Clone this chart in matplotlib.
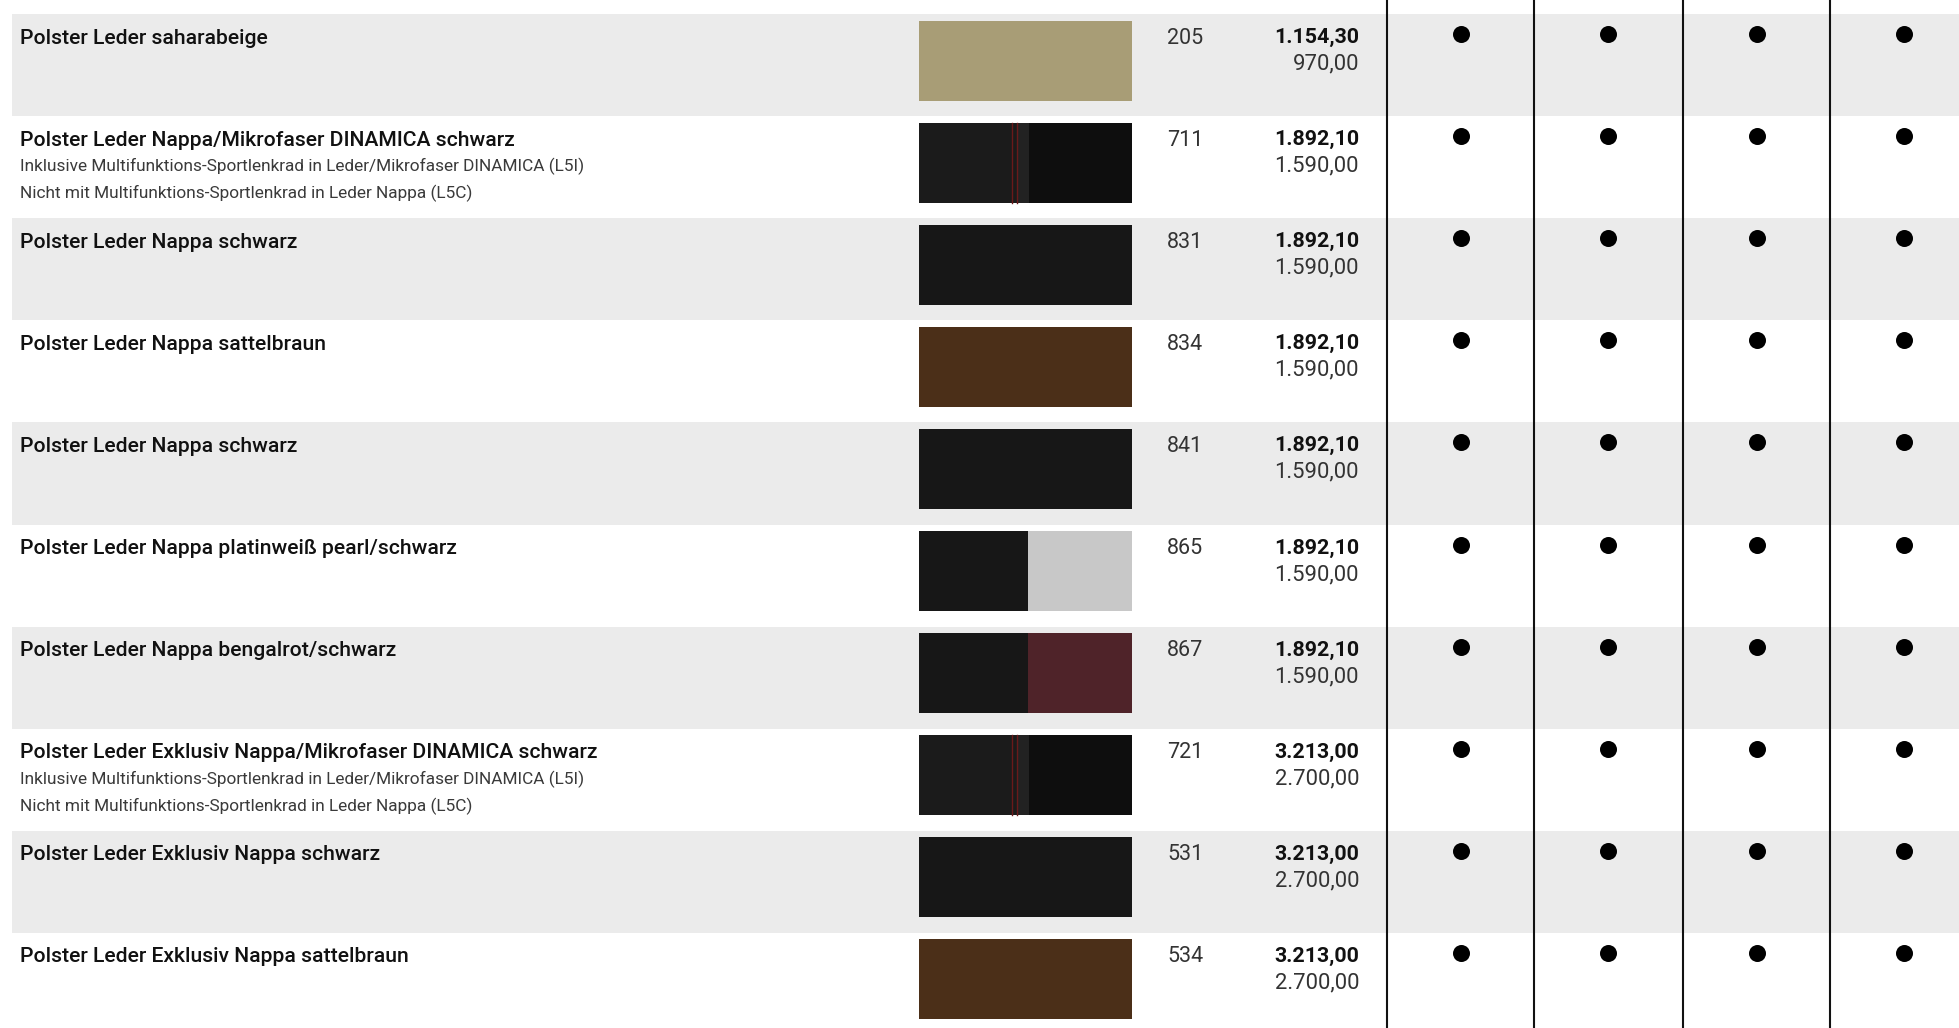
import matplotlib.pyplot as plt
from matplotlib.patches import Rectangle

# table content
titles = [
    "Polster Leder saharabeige",
    "Polster Leder Nappa/Mikrofaser DINAMICA schwarz",
    "Polster Leder Nappa schwarz",
    "Polster Leder Nappa sattelbraun",
    "Polster Leder Nappa schwarz",
    "Polster Leder Nappa platinweiß pearl/schwarz",
    "Polster Leder Nappa bengalrot/schwarz",
    "Polster Leder Exklusiv Nappa/Mikrofaser DINAMICA schwarz",
    "Polster Leder Exklusiv Nappa schwarz",
    "Polster Leder Exklusiv Nappa sattelbraun",
]
notes = [
    [],
    ["Inklusive Multifunktions-Sportlenkrad in Leder/Mikrofaser DINAMICA (L5I)",
     "Nicht mit Multifunktions-Sportlenkrad in Leder Nappa (L5C)"],
    [], [], [], [], [],
    ["Inklusive Multifunktions-Sportlenkrad in Leder/Mikrofaser DINAMICA (L5I)",
     "Nicht mit Multifunktions-Sportlenkrad in Leder Nappa (L5C)"],
    [], [],
]
codes = ["205", "711", "831", "834", "841", "865", "867", "721", "531", "534"]
price_gross = ["1.154,30", "1.892,10", "1.892,10", "1.892,10", "1.892,10",
               "1.892,10", "1.892,10", "3.213,00", "3.213,00", "3.213,00"]
price_net = ["970,00", "1.590,00", "1.590,00", "1.590,00", "1.590,00",
             "1.590,00", "1.590,00", "2.700,00", "2.700,00", "2.700,00"]
# swatch: kind + main colour + second colour
swatch_kind = ["plain", "stitched", "plain", "plain", "plain",
               "split", "split", "stitched", "plain", "plain"]
swatch_main = ["#a89d76", "#1b1b1b", "#171717", "#4b2f18", "#171717",
               "#171717", "#171717", "#1b1b1b", "#171717", "#4b2f18"]
swatch_second = [None, "#0e0e0e", None, None, None,
                 "#c8c8c8", "#4f2329", "#0e0e0e", None, None]
available = [
    [1, 1, 1, 1], [1, 1, 1, 1], [1, 1, 1, 1], [1, 1, 1, 1], [1, 1, 1, 1],
    [1, 1, 1, 1], [1, 1, 1, 1], [1, 1, 1, 1], [1, 1, 1, 1], [1, 1, 1, 1],
]

W, H = 1959, 1028
fig = plt.figure(figsize=(W / 100, H / 100), dpi=100)
ax = fig.add_axes([0, 0, 1, 1])
ax.set_xlim(0, W)
ax.set_ylim(H, 0)
ax.axis("off")

top = 14
row_h = 102.1
sw_x, sw_w, sw_h = 919, 213, 80
col_lines = [1387, 1534, 1683, 1830]
font = "Roboto"

for i, title in enumerate(titles):
    y0 = top + i * row_h
    if i % 2 == 0:
        ax.add_patch(Rectangle((12, y0), W - 12, row_h, color="#ebebeb", lw=0, zorder=0))

    ax.text(20, y0 + 24, title, fontsize=15.2, fontweight="medium", family=font,
            va="center", ha="left", color="#111111")
    for k, line in enumerate(notes[i]):
        ax.text(20, y0 + 50.5 + k * 27, line, fontsize=12.4, family=font,
                va="center", ha="left", color="#3a3a3a")

    # swatch
    sy = y0 + 6.5
    kind = swatch_kind[i]
    if kind == "plain":
        ax.add_patch(Rectangle((sw_x, sy), sw_w, sw_h, color=swatch_main[i], lw=0, zorder=2))
    elif kind == "split":
        ax.add_patch(Rectangle((sw_x, sy), sw_w * 0.51, sw_h, color=swatch_main[i], lw=0, zorder=2))
        ax.add_patch(Rectangle((sw_x + sw_w * 0.51, sy), sw_w * 0.49, sw_h,
                               color=swatch_second[i], lw=0, zorder=2))
    else:
        ax.add_patch(Rectangle((sw_x, sy), sw_w * 0.515, sw_h, color=swatch_main[i], lw=0, zorder=2))
        ax.add_patch(Rectangle((sw_x + sw_w * 0.46, sy), sw_w * 0.055, sw_h,
                               color="#222222", lw=0, zorder=2))
        ax.add_patch(Rectangle((sw_x + sw_w * 0.515, sy), sw_w * 0.485, sw_h,
                               color=swatch_second[i], lw=0, zorder=2))
        for f in (0.435, 0.46):
            ax.plot([sw_x + sw_w * f] * 2, [sy, sy + sw_h], color="#6a1a1a", lw=1.0, zorder=3)

    ax.text(1167, y0 + 24, codes[i], fontsize=15.5, family=font,
            va="center", ha="left", color="#333333")
    ax.text(1359, y0 + 23.5, price_gross[i], fontsize=15.4, family=font, fontweight="bold",
            va="center", ha="right", color="#111111")
    ax.text(1359, y0 + 50, price_net[i], fontsize=15.8, family=font,
            va="center", ha="right", color="#333333")

    for j, flag in enumerate(available[i]):
        if flag:
            cx = col_lines[j] + 74
            ax.scatter([cx], [y0 + 20], s=150, color="black", zorder=4, linewidths=0)

for x in col_lines:
    ax.plot([x, x], [0, H], color="#111111", lw=1.5, zorder=3)

fig.savefig("out.png", dpi=100)
